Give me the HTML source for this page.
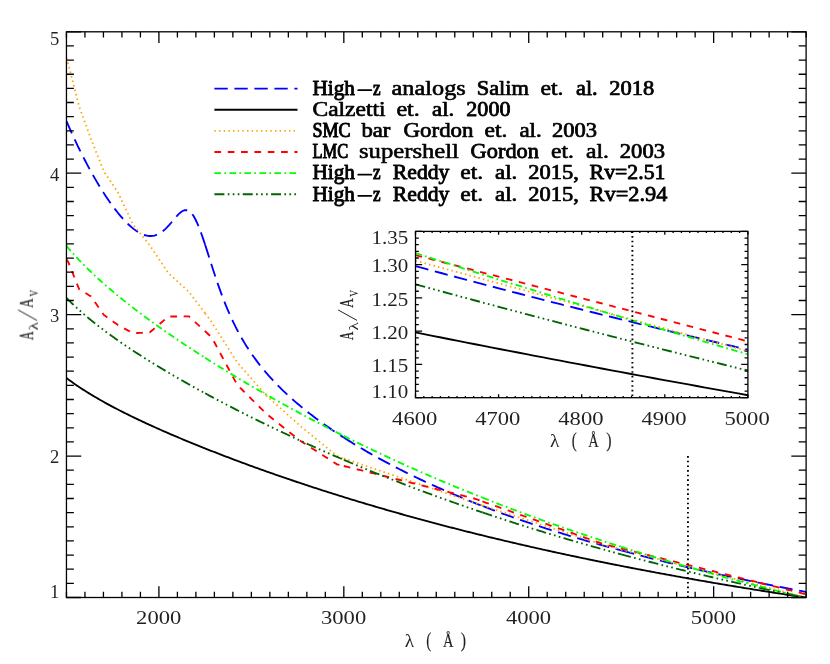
<!DOCTYPE html>
<html><head><meta charset="utf-8"><title>Attenuation curves</title>
<style>
html,body{margin:0;padding:0;background:#fff;}
body{width:830px;height:664px;overflow:hidden;font-family:"Liberation Serif",serif;}
svg{display:block;}
text{font-family:"Liberation Serif",serif;fill:#000;}
.t,.yl,.ys{opacity:0.88;}
.t{font-size:19.7px;}
.b{font-size:20px;fill:#000;stroke:#000;stroke-linejoin:round;}
.s{font-size:12.5px;}
.yl{font-size:19.2px;}
.ys{font-size:12.6px;}
.p{font-size:21px;opacity:0.88;}
</style></head><body>
<svg width="830" height="664" viewBox="0 0 830 664">
<rect x="0" y="0" width="830" height="664" fill="#fff"/>
<defs>
<clipPath id="cm"><rect x="66.45" y="31.8" width="739.65" height="565.7"/></clipPath>
<clipPath id="ci"><rect x="415.5" y="231.4" width="332.4" height="166.29999999999998"/></clipPath>
</defs>
<g clip-path="url(#cm)" fill="none" stroke-width="1.85">
<path d="M66.45,121.10 L68.19,125.11 L68.32,125.41 L70.20,129.64 L72.07,133.79 L73.95,137.86 L75.82,141.86 L77.69,145.78 L79.14,148.76 L79.57,149.63 L81.44,153.41 L83.32,157.12 L85.19,160.76 L87.07,164.32 L88.94,167.82 L90.81,171.24 L90.98,171.54 L92.69,174.60 L94.56,177.89 L96.44,181.11 L98.31,184.25 L100.18,187.33 L102.06,190.34 L103.83,193.11 L103.93,193.28 L105.81,196.14 L107.68,198.93 L109.55,201.65 L111.43,204.29 L113.30,206.86 L115.18,209.34 L117.05,211.74 L117.81,212.70 L118.93,214.06 L120.80,216.29 L122.67,218.43 L124.55,220.48 L126.42,222.42 L128.30,224.27 L130.17,226.00 L132.04,227.63 L133.10,228.49 L133.92,229.13 L135.79,230.51 L137.67,231.75 L139.54,232.86 L141.41,233.81 L143.29,234.61 L145.16,235.24 L147.04,235.70 L148.91,235.96 L149.89,236.02 L150.79,236.03 L152.66,235.89 L154.53,235.54 L156.41,234.96 L158.28,234.15 L160.16,233.11 L162.03,231.84 L163.90,230.34 L165.78,228.63 L167.65,226.73 L168.39,225.93 L169.53,224.66 L171.40,222.48 L173.27,220.24 L175.15,218.01 L177.02,215.86 L178.90,213.91 L180.77,212.25 L182.65,210.99 L184.52,210.23 L186.39,210.08 L188.27,210.60 L188.89,210.93 L190.14,211.84 L192.02,213.83 L193.89,216.56 L195.76,219.99 L197.64,224.06 L199.51,228.67 L201.39,233.74 L203.26,239.15 L205.13,244.82" stroke="#0000ff" stroke-dasharray="13.33 6.67"/>
<path d="M205.13,244.82 L207.01,250.65 L208.88,256.55 L210.76,262.45 L211.74,265.52 L212.63,268.30 L214.50,274.05 L216.38,279.66 L218.25,285.11 L220.13,290.39 L222.00,295.47 L223.88,300.37 L225.75,305.07 L227.62,309.59 L229.50,313.92 L231.37,318.07 L233.25,322.06 L235.12,325.88 L236.99,329.55 L237.35,330.24 L238.87,333.08 L240.74,336.47 L242.62,339.74 L244.49,342.89 L246.36,345.92 L248.24,348.85 L250.11,351.69 L251.99,354.43 L253.86,357.09 L255.74,359.66 L257.61,362.17 L259.48,364.60 L261.36,366.96 L263.23,369.26 L265.11,371.51 L266.27,372.88 L266.98,373.69 L268.85,375.83 L270.73,377.92 L272.60,379.96 L274.48,381.96 L276.35,383.91 L278.22,385.83 L280.10,387.71 L281.97,389.55 L283.85,391.36 L285.72,393.13 L287.60,394.88 L289.47,396.60 L291.34,398.29 L293.22,399.95 L295.09,401.58 L296.97,403.20 L298.84,404.78 L299.18,405.07 L300.71,406.35 L302.59,407.89 L304.46,409.42 L306.34,410.92 L308.21,412.40 L310.08,413.86 L311.96,415.31 L313.83,416.74 L315.71,418.15 L317.58,419.54 L319.46,420.92 L321.33,422.28 L323.20,423.63 L325.08,424.96 L326.95,426.28 L328.83,427.59 L330.70,428.88 L332.57,430.16 L334.45,431.42 L336.32,432.68 L336.97,433.11 L338.20,433.92 L340.07,435.15 L341.94,436.36 L343.82,437.57" stroke="#0000ff" stroke-dasharray="13.33 6.67"/>
<path d="M343.82,437.57 L345.69,438.77 L347.57,439.95 L349.44,441.12 L351.32,442.29 L353.19,443.44 L355.06,444.59 L356.94,445.72 L358.81,446.84 L360.69,447.96 L362.56,449.07 L364.43,450.16 L366.31,451.25 L368.18,452.33 L370.06,453.40 L371.93,454.47 L373.80,455.52 L375.68,456.57 L377.55,457.61 L379.43,458.64 L381.30,459.66 L383.18,460.68 L385.05,461.68 L386.92,462.68 L388.80,463.68 L390.67,464.66 L392.55,465.64 L394.42,466.62 L396.29,467.58 L398.17,468.54 L400.04,469.50 L401.92,470.44 L403.79,471.38 L405.66,472.32 L407.54,473.24 L409.41,474.16 L411.29,475.08 L413.16,475.99 L415.04,476.89 L416.91,477.79 L418.78,478.68 L420.66,479.57 L422.53,480.45 L424.41,481.32 L426.28,482.19 L428.15,483.05 L430.03,483.91 L431.90,484.76 L433.78,485.61 L435.65,486.45 L437.52,487.29 L439.40,488.12 L441.27,488.95 L443.15,489.77 L445.02,490.59 L446.89,491.40 L448.77,492.21 L450.64,493.02 L452.52,493.81 L454.39,494.61 L456.27,495.40 L458.14,496.18 L460.01,496.96 L461.89,497.74 L463.76,498.51 L465.64,499.28 L467.51,500.04 L469.38,500.80 L471.26,501.55 L473.13,502.30 L473.18,502.32 L475.01,503.05 L476.88,503.79 L478.75,504.52 L480.63,505.26 L482.50,505.99" stroke="#0000ff" stroke-dasharray="13.33 6.67"/>
<path d="M482.50,505.99 L484.38,506.71 L486.25,507.43 L488.13,508.15 L490.00,508.87 L491.87,509.58 L493.75,510.28 L495.62,510.99 L497.50,511.68 L499.37,512.38 L501.24,513.07 L503.12,513.76 L504.99,514.44 L506.87,515.12 L508.74,515.80 L510.61,516.47 L512.49,517.14 L514.36,517.81 L516.24,518.47 L518.11,519.13 L519.99,519.78 L521.86,520.43 L523.73,521.08 L525.61,521.72 L527.48,522.35 L529.36,522.99 L531.23,523.62 L533.10,524.24 L534.98,524.87 L536.85,525.48 L538.73,526.10 L540.60,526.71 L542.47,527.32 L544.35,527.93 L546.22,528.53 L548.10,529.13 L549.97,529.72 L551.85,530.31 L553.72,530.90 L555.59,531.49 L557.47,532.07 L559.34,532.65 L561.22,533.23 L563.09,533.80 L564.96,534.38 L566.84,534.94 L568.71,535.51 L570.59,536.07 L572.46,536.63 L574.33,537.19 L576.21,537.75 L578.08,538.30 L579.96,538.85 L581.83,539.40 L583.71,539.95 L585.58,540.49 L587.45,541.03 L589.33,541.57 L591.20,542.11 L593.08,542.65 L594.95,543.18 L596.82,543.71 L598.70,544.24 L600.57,544.77 L602.45,545.29 L602.60,545.34 L604.32,545.82 L606.19,546.34 L608.07,546.86 L609.94,547.38 L611.82,547.90 L613.69,548.41 L615.57,548.93 L617.44,549.44 L619.31,549.95 L621.19,550.46" stroke="#0000ff" stroke-dasharray="13.33 6.67"/>
<path d="M621.19,550.46 L623.06,550.97 L624.94,551.47 L626.81,551.98 L628.68,552.48 L630.56,552.98 L632.43,553.47 L634.31,553.97 L636.18,554.46 L638.05,554.95 L639.93,555.44 L641.80,555.93 L643.68,556.41 L645.55,556.90 L647.43,557.38 L649.30,557.85 L651.17,558.33 L653.05,558.81 L654.92,559.28 L656.80,559.75 L658.67,560.22 L660.54,560.68 L662.42,561.15 L664.29,561.61 L666.17,562.07 L668.04,562.53 L669.91,562.99 L671.79,563.45 L673.66,563.90 L675.54,564.35 L677.41,564.80 L679.29,565.25 L681.16,565.70 L683.03,566.14 L684.91,566.58 L686.78,567.02 L688.66,567.46 L690.53,567.90 L692.40,568.34 L694.28,568.77 L696.15,569.20 L698.03,569.63 L699.90,570.06 L701.77,570.49 L703.65,570.92 L705.52,571.34 L707.40,571.76 L709.27,572.18 L711.14,572.60 L713.02,573.02 L714.89,573.43 L716.77,573.85 L718.64,574.26 L720.52,574.67 L722.39,575.08 L724.26,575.49 L726.14,575.90 L728.01,576.30 L729.89,576.70 L731.76,577.11 L733.63,577.51 L735.51,577.90 L737.38,578.30 L739.26,578.70 L741.13,579.09 L743.00,579.48 L744.88,579.88 L746.75,580.27 L748.63,580.65 L750.50,581.04 L752.38,581.43 L754.25,581.81 L756.12,582.19 L758.00,582.57 L759.87,582.95" stroke="#0000ff" stroke-dasharray="13.33 6.67"/>
<path d="M759.87,582.95 L761.80,583.34 L763.72,583.73 L765.65,584.12 L767.58,584.50 L769.50,584.88 L771.43,585.27 L773.36,585.65 L775.28,586.02 L777.21,586.40 L779.13,586.78 L781.06,587.15 L782.99,587.53 L784.91,587.90 L786.84,588.27 L788.76,588.64 L790.69,589.01 L792.62,589.37 L794.54,589.74 L796.47,590.10 L798.40,590.46 L800.32,590.82 L802.25,591.18 L804.17,591.54 L806.10,591.90" stroke="#0000ff" stroke-dasharray="13.33 6.67"/>
<path d="M66.45,378.07 L68.19,379.36 L68.30,379.44 L70.16,380.79 L72.01,382.12 L73.87,383.42 L75.72,384.70 L77.57,385.96 L79.14,387.01 L79.43,387.20 L81.28,388.42 L83.13,389.62 L84.99,390.80 L86.84,391.97 L88.70,393.12 L90.55,394.25 L90.98,394.51 L92.40,395.37 L94.26,396.47 L96.11,397.57 L97.96,398.64 L99.82,399.71 L101.67,400.76 L103.53,401.80 L103.83,401.97 L105.38,402.83 L107.23,403.85 L109.09,404.86 L110.94,405.85 L112.79,406.84 L114.65,407.82 L116.50,408.79 L117.81,409.47 L118.36,409.75 L120.21,410.70 L122.06,411.65 L123.92,412.58 L125.77,413.51 L127.62,414.43 L129.48,415.35 L131.33,416.26 L133.10,417.12 L133.19,417.16 L135.04,418.05 L136.89,418.94 L138.75,419.82 L140.60,420.70 L142.45,421.57 L144.31,422.43 L146.16,423.29 L148.02,424.15 L149.87,425.00 L149.89,425.00 L151.72,425.84 L153.58,426.68 L155.43,427.51 L157.28,428.34 L159.14,429.17 L160.99,429.99 L162.85,430.81 L164.70,431.62 L166.55,432.43 L168.39,433.23 L168.41,433.23 L170.26,434.03 L172.11,434.83 L173.97,435.62 L175.82,436.41 L177.68,437.20 L179.53,437.98 L181.38,438.76 L183.24,439.53 L185.09,440.31 L186.94,441.07 L188.80,441.84 L188.89,441.88 L190.65,442.60 L192.51,443.36 L194.36,444.12 L196.21,444.87 L198.07,445.62 L199.92,446.36 L201.77,447.11 L203.63,447.85 L205.48,448.59 L207.34,449.32 L209.19,450.05 L211.04,450.78 L211.74,451.06 L212.90,451.51 L214.75,452.23 L216.60,452.96 L218.46,453.68 L220.31,454.39 L222.17,455.11 L224.02,455.82 L225.87,456.52 L227.73,457.23 L229.58,457.93 L231.43,458.64 L233.29,459.33 L235.14,460.03 L237.00,460.72 L237.35,460.86 L238.85,461.42 L240.70,462.10 L242.56,462.79 L244.41,463.48 L246.26,464.16 L248.12,464.84 L249.97,465.52 L251.83,466.19 L253.68,466.86 L255.53,467.53 L257.39,468.20 L259.24,468.87 L261.09,469.53 L262.95,470.20 L264.80,470.86 L266.27,471.38 L266.66,471.51 L268.51,472.17 L270.36,472.82 L272.22,473.47 L274.07,474.12 L275.92,474.77 L277.78,475.41 L279.63,476.06 L281.49,476.70 L283.34,477.34 L285.19,477.97 L287.05,478.61 L288.90,479.24 L290.75,479.87 L292.61,480.50 L294.46,481.12 L296.32,481.75 L298.17,482.37 L299.18,482.71 L300.02,482.99 L301.88,483.61 L303.73,484.23 L305.58,484.84 L307.44,485.45 L309.29,486.06 L311.15,486.67 L313.00,487.28 L314.85,487.88 L316.71,488.49 L318.56,489.09 L320.42,489.69 L322.27,490.28 L324.12,490.88 L325.98,491.47 L327.83,492.06 L329.68,492.65 L331.54,493.24 L333.39,493.83 L335.25,494.41 L336.97,494.95 L337.10,494.99 L338.95,495.57 L340.81,496.15 L342.66,496.73 L344.51,497.30 L346.37,497.88 L348.22,498.45 L350.08,499.02 L351.93,499.59 L353.78,500.15 L355.64,500.72 L357.49,501.28 L359.34,501.84 L361.20,502.40 L363.05,502.96 L364.91,503.51 L366.76,504.06 L368.61,504.62 L370.47,505.17 L372.32,505.72 L374.17,506.26 L376.03,506.81 L377.88,507.35 L379.74,507.89 L381.59,508.43 L383.44,508.97 L385.30,509.51 L387.15,510.04 L389.00,510.57 L390.86,511.11 L392.71,511.64 L394.57,512.16 L396.42,512.69 L398.27,513.22 L400.13,513.74 L401.98,514.26 L403.83,514.78 L405.69,515.30 L407.54,515.81 L409.40,516.33 L411.25,516.84 L413.10,517.36 L414.96,517.87 L416.81,518.37 L418.66,518.88 L420.52,519.39 L422.37,519.89 L424.23,520.39 L426.08,520.89 L427.93,521.39 L429.79,521.89 L431.64,522.39 L433.49,522.88 L435.35,523.38 L437.20,523.87 L439.06,524.36 L440.91,524.85 L442.76,525.33 L444.62,525.82 L446.47,526.30 L448.32,526.78 L450.18,527.27 L452.03,527.75 L453.89,528.22 L455.74,528.70 L457.59,529.18 L459.45,529.65 L461.30,530.12 L463.15,530.59 L465.01,531.06 L466.86,531.53 L468.72,532.00 L470.57,532.46 L472.42,532.92 L473.18,533.11 L474.28,533.39 L476.13,533.85 L477.98,534.31 L479.84,534.76 L481.69,535.22 L483.55,535.68 L485.40,536.13 L487.25,536.58 L489.11,537.03 L490.96,537.48 L492.81,537.93 L494.67,538.38 L496.52,538.82 L498.38,539.27 L500.23,539.71 L502.08,540.15 L503.94,540.59 L505.79,541.03 L507.64,541.47 L509.50,541.90 L511.35,542.34 L513.21,542.77 L515.06,543.20 L516.91,543.63 L518.77,544.06 L520.62,544.49 L522.47,544.92 L524.33,545.34 L526.18,545.77 L528.04,546.19 L529.89,546.61 L531.74,547.03 L533.60,547.45 L535.45,547.87 L537.30,548.29 L539.16,548.70 L541.01,549.12 L542.87,549.53 L544.72,549.94 L546.57,550.35 L548.43,550.76 L550.28,551.17 L552.13,551.58 L553.99,551.98 L555.84,552.39 L557.70,552.79 L559.55,553.19 L561.40,553.59 L563.26,553.99 L565.11,554.39 L566.97,554.79 L568.82,555.18 L570.67,555.58 L572.53,555.97 L574.38,556.37 L576.23,556.76 L578.09,557.15 L579.94,557.54 L581.80,557.92 L583.65,558.31 L585.50,558.70 L587.36,559.08 L589.21,559.47 L591.06,559.85 L592.92,560.23 L594.77,560.61 L596.63,560.99 L598.48,561.37 L600.33,561.74 L602.19,562.12 L602.60,562.20 L604.04,562.49 L605.89,562.87 L607.75,563.24 L609.60,563.61 L611.46,563.98 L613.31,564.35 L615.16,564.72 L617.02,565.08 L618.87,565.45 L620.72,565.81 L622.58,566.18 L624.43,566.54 L626.29,566.90 L628.14,567.26 L629.99,567.62 L631.85,567.98 L633.70,568.34 L635.55,568.70 L637.41,569.05 L639.26,569.41 L641.12,569.76 L642.97,570.11 L644.82,570.46 L646.68,570.81 L648.53,571.16 L650.38,571.51 L652.24,571.86 L654.09,572.20 L655.95,572.55 L657.80,572.89 L659.65,573.24 L661.51,573.58 L663.36,573.92 L665.21,574.26 L667.07,574.60 L668.92,574.94 L670.78,575.28 L672.63,575.62 L674.48,575.95 L676.34,576.29 L678.19,576.62 L680.04,576.95 L681.90,577.29 L683.75,577.62 L685.61,577.95 L687.46,578.28 L689.31,578.60 L691.17,578.93 L693.02,579.26 L694.87,579.58 L696.73,579.91 L698.58,580.23 L700.44,580.55 L702.29,580.88 L704.14,581.20 L706.00,581.52 L707.85,581.84 L709.70,582.16 L711.56,582.47 L713.41,582.79 L715.27,583.11 L717.12,583.42 L718.97,583.73 L720.83,584.05 L722.68,584.36 L724.53,584.67 L726.39,584.98 L728.24,585.29 L730.10,585.60 L731.95,585.91 L733.80,586.22 L735.66,586.52 L737.51,586.83 L739.36,587.13 L741.22,587.44 L743.07,587.74 L744.93,588.04 L746.78,588.34 L748.63,588.64 L750.49,588.94 L752.34,589.24 L754.19,589.54 L756.05,589.84 L757.90,590.13 L759.76,590.43 L761.61,590.73 L763.46,591.02 L765.32,591.31 L767.17,591.61 L769.02,591.90 L770.88,592.19 L772.73,592.48 L774.59,592.77 L776.44,593.06 L778.29,593.35 L780.15,593.63 L782.00,593.92 L783.85,594.20 L785.71,594.49 L787.56,594.77 L789.42,595.06 L791.27,595.34 L793.12,595.62 L794.98,595.90 L796.83,596.18 L798.68,596.46 L800.54,596.74 L802.39,597.02 L804.25,597.30 L806.10,597.57" stroke="#000"/>
<path d="M66.45,58.03 L68.19,63.48 L68.32,63.99 L70.20,71.35 L72.07,78.71 L73.95,86.07 L75.82,93.43 L77.69,100.80 L79.14,106.47 L79.57,107.65 L81.44,112.77 L83.32,117.90 L85.19,123.03 L87.07,128.15 L88.94,133.28 L90.81,138.41 L90.98,138.86 L92.69,143.18 L94.56,147.93 L96.44,152.67 L98.31,157.42 L100.18,162.17 L102.06,166.91 L103.83,171.39 L103.93,171.54 L105.81,174.33 L107.68,177.11 L109.55,179.90 L111.43,182.69 L113.30,185.47 L115.18,188.26 L117.05,191.04 L117.81,192.18 L118.93,194.53 L120.80,198.50 L122.67,202.47 L124.55,206.44 L126.42,210.41 L128.30,214.38 L130.17,218.35 L132.04,222.32 L133.10,224.56 L133.92,225.58 L135.79,227.91 L137.67,230.25 L139.54,232.59 L141.41,234.93 L143.29,237.26 L145.16,239.60 L147.04,241.94 L148.91,244.28 L149.89,245.49 L150.79,246.84 L152.66,249.65 L154.53,252.46 L156.41,255.26 L158.28,258.07 L160.16,260.88 L162.03,263.69 L163.90,266.49 L165.78,269.30 L167.65,272.11 L168.39,273.21 L169.53,274.25 L171.40,275.95 L173.27,277.66 L175.15,279.37 L177.02,281.07 L178.90,282.78 L180.77,284.49 L182.65,286.19 L184.52,287.90 L186.39,289.61 L188.27,291.31 L188.89,291.88 L190.14,293.54 L192.02,296.02 L193.89,298.50 L195.76,300.98 L197.64,303.47 L199.51,305.95 L201.39,308.43 L203.26,310.91 L205.13,313.40" stroke="#ffa500" stroke-dasharray="1.45 3.21"/>
<path d="M205.13,313.40 L207.01,315.88 L208.88,318.36 L210.76,320.85 L211.74,322.15 L212.63,323.55 L214.50,326.51 L216.38,329.47 L218.25,332.43 L220.13,335.39 L222.00,338.35 L223.88,341.31 L225.75,344.27 L227.62,347.23 L229.50,350.19 L231.37,353.15 L233.25,356.11 L235.12,359.07 L236.99,362.03 L237.35,362.59 L238.87,364.32 L240.74,366.45 L242.62,368.59 L244.49,370.72 L246.36,372.86 L248.24,375.00 L250.11,377.13 L251.99,379.27 L253.86,381.40 L255.74,383.54 L257.61,385.67 L259.48,387.81 L261.36,389.94 L263.23,392.08 L265.11,394.21 L266.27,395.55 L266.98,396.18 L268.85,397.85 L270.73,399.53 L272.60,401.20 L274.48,402.88 L276.35,404.55 L278.22,406.23 L280.10,407.90 L281.97,409.58 L283.85,411.25 L285.72,412.93 L287.60,414.60 L289.47,416.28 L291.34,417.95 L293.22,419.63 L295.09,421.30 L296.97,422.98 L298.84,424.65 L299.18,424.96 L300.71,426.22 L302.59,427.76 L304.46,429.31 L306.34,430.85 L308.21,432.39 L310.08,433.94 L311.96,435.48 L313.83,437.02 L315.71,438.57 L317.58,440.11 L319.46,441.65 L321.33,443.20 L323.20,444.74 L325.08,446.28 L326.95,447.83 L328.83,449.37 L330.70,450.91 L332.57,452.46 L334.45,454.00 L336.32,455.54 L336.97,456.07 L338.20,456.49 L340.07,457.13 L341.94,457.77 L343.82,458.41" stroke="#ffa500" stroke-dasharray="1.45 3.21"/>
<path d="M343.82,458.41 L345.69,459.05 L347.57,459.68 L349.44,460.32 L351.32,460.96 L353.19,461.60 L355.06,462.24 L356.94,462.87 L358.81,463.51 L360.69,464.15 L362.56,464.79 L364.43,465.43 L366.31,466.07 L368.18,466.70 L370.06,467.34 L371.93,467.98 L373.80,468.62 L375.68,469.26 L377.55,469.90 L379.43,470.53 L381.30,471.17 L383.18,471.81 L385.05,472.45 L386.92,473.09 L388.80,473.72 L390.67,474.36 L392.55,475.00 L394.42,475.64 L396.29,476.28 L398.17,476.92 L400.04,477.55 L401.92,478.19 L403.79,478.83 L405.66,479.47 L407.54,480.11 L409.41,480.75 L411.29,481.38 L413.16,482.02 L415.04,482.66 L416.91,483.30 L418.78,483.94 L420.66,484.57 L422.53,485.21 L424.41,485.85 L426.28,486.49 L428.15,487.13 L430.03,487.77 L431.90,488.40 L433.78,489.04 L435.65,489.68 L437.52,490.32 L439.40,490.96 L441.27,491.60 L443.15,492.23 L445.02,492.87 L446.89,493.51 L448.77,494.15 L450.64,494.79 L452.52,495.42 L454.39,496.06 L456.27,496.70 L458.14,497.34 L460.01,497.98 L461.89,498.62 L463.76,499.25 L465.64,499.89 L467.51,500.53 L469.38,501.17 L471.26,501.81 L473.13,502.45 L473.18,502.46 L475.01,503.06 L476.88,503.67 L478.75,504.28 L480.63,504.89 L482.50,505.50" stroke="#ffa500" stroke-dasharray="1.45 3.21"/>
<path d="M482.50,505.50 L484.38,506.11 L486.25,506.72 L488.13,507.33 L490.00,507.94 L491.87,508.55 L493.75,509.16 L495.62,509.77 L497.50,510.38 L499.37,510.99 L501.24,511.60 L503.12,512.21 L504.99,512.82 L506.87,513.43 L508.74,514.04 L510.61,514.65 L512.49,515.26 L514.36,515.87 L516.24,516.48 L518.11,517.09 L519.99,517.70 L521.86,518.31 L523.73,518.92 L525.61,519.53 L527.48,520.15 L529.36,520.76 L531.23,521.37 L533.10,521.98 L534.98,522.59 L536.85,523.20 L538.73,523.81 L540.60,524.42 L542.47,525.03 L544.35,525.64 L546.22,526.25 L548.10,526.86 L549.97,527.47 L551.85,528.08 L553.72,528.69 L555.59,529.30 L557.47,529.91 L559.34,530.52 L561.22,531.13 L563.09,531.74 L564.96,532.35 L566.84,532.96 L568.71,533.57 L570.59,534.18 L572.46,534.79 L574.33,535.40 L576.21,536.01 L578.08,536.62 L579.96,537.23 L581.83,537.84 L583.71,538.45 L585.58,539.06 L587.45,539.68 L589.33,540.29 L591.20,540.90 L593.08,541.51 L594.95,542.12 L596.82,542.73 L598.70,543.34 L600.57,543.95 L602.45,544.56 L602.60,544.61 L604.32,545.05 L606.19,545.54 L608.07,546.03 L609.94,546.51 L611.82,547.00 L613.69,547.49 L615.57,547.98 L617.44,548.46 L619.31,548.95 L621.19,549.44" stroke="#ffa500" stroke-dasharray="1.45 3.21"/>
<path d="M621.19,549.44 L623.06,549.92 L624.94,550.41 L626.81,550.90 L628.68,551.38 L630.56,551.87 L632.43,552.36 L634.31,552.84 L636.18,553.33 L638.05,553.82 L639.93,554.30 L641.80,554.79 L643.68,555.28 L645.55,555.77 L647.43,556.25 L649.30,556.74 L651.17,557.23 L653.05,557.71 L654.92,558.20 L656.80,558.69 L658.67,559.17 L660.54,559.66 L662.42,560.15 L664.29,560.63 L666.17,561.12 L668.04,561.61 L669.91,562.09 L671.79,562.58 L673.66,563.07 L675.54,563.56 L677.41,564.04 L679.29,564.53 L681.16,565.02 L683.03,565.50 L684.91,565.99 L686.78,566.48 L688.66,566.96 L690.53,567.45 L692.40,567.94 L694.28,568.42 L696.15,568.91 L698.03,569.40 L699.90,569.88 L701.77,570.37 L703.65,570.86 L705.52,571.35 L707.40,571.83 L709.27,572.32 L711.14,572.81 L713.02,573.29 L714.89,573.78 L716.77,574.27 L718.64,574.75 L720.52,575.24 L722.39,575.73 L724.26,576.21 L726.14,576.70 L728.01,577.19 L729.89,577.67 L731.76,578.16 L733.63,578.65 L735.51,579.13 L737.38,579.62 L739.26,580.11 L741.13,580.60 L743.00,581.08 L744.88,581.57 L746.75,582.06 L748.63,582.54 L750.50,583.03 L752.38,583.52 L754.25,584.00 L756.12,584.49 L758.00,584.98 L759.87,585.46" stroke="#ffa500" stroke-dasharray="1.45 3.21"/>
<path d="M759.87,585.46 L761.80,585.96 L763.72,586.47 L765.65,586.97 L767.58,587.47 L769.50,587.97 L771.43,588.47 L773.36,588.97 L775.28,589.47 L777.21,589.97 L779.13,590.47 L781.06,590.97 L782.99,591.47 L784.91,591.97 L786.84,592.47 L788.76,592.97 L790.69,593.47 L792.62,593.97 L794.54,594.47 L796.47,594.97 L798.40,595.47 L800.32,595.97 L802.25,596.47 L804.17,596.97 L806.10,597.47" stroke="#ffa500" stroke-dasharray="1.45 3.21"/>
<path d="M66.45,259.16 L68.19,261.87 L68.32,262.19 L70.20,266.87 L72.07,271.55 L73.95,276.23 L75.82,280.91 L77.69,285.59 L79.14,289.20 L79.57,289.46 L81.44,290.60 L83.32,291.75 L85.19,292.89 L87.07,294.04 L88.94,295.18 L90.81,296.33 L90.98,296.43 L92.69,298.89 L94.56,301.59 L96.44,304.29 L98.31,306.99 L100.18,309.69 L102.06,312.39 L103.83,314.94 L103.93,315.01 L105.81,316.35 L107.68,317.69 L109.55,319.02 L111.43,320.36 L113.30,321.70 L115.18,323.03 L117.05,324.37 L117.81,324.91 L118.93,325.52 L120.80,326.55 L122.67,327.58 L124.55,328.61 L126.42,329.64 L128.30,330.66 L130.17,331.69 L132.04,332.72 L133.10,333.30 L133.92,333.25 L135.79,333.14 L137.67,333.03 L139.54,332.91 L141.41,332.80 L143.29,332.69 L145.16,332.57 L147.04,332.46 L148.91,332.35 L149.89,332.29 L150.79,331.52 L152.66,329.93 L154.53,328.33 L156.41,326.73 L158.28,325.14 L160.16,323.54 L162.03,321.95 L163.90,320.35 L165.78,318.75 L167.65,317.16 L168.39,316.53 L169.53,316.52 L171.40,316.51 L173.27,316.49 L175.15,316.48 L177.02,316.47 L178.90,316.45 L180.77,316.44 L182.65,316.43 L184.52,316.41 L186.39,316.40 L188.27,316.39 L188.89,316.38 L190.14,317.53 L192.02,319.25 L193.89,320.97 L195.76,322.69 L197.64,324.41 L199.51,326.13 L201.39,327.85 L203.26,329.57 L205.13,331.29" stroke="#ff0000" stroke-dasharray="6.67 6.67"/>
<path d="M205.13,331.29 L207.01,333.01 L208.88,334.73 L210.76,336.45 L211.74,337.35 L212.63,339.01 L214.50,342.51 L216.38,346.00 L218.25,349.49 L220.13,352.98 L222.00,356.47 L223.88,359.96 L225.75,363.45 L227.62,366.94 L229.50,370.44 L231.37,373.93 L233.25,377.42 L235.12,380.91 L236.99,384.40 L237.35,385.07 L238.87,386.57 L240.74,388.43 L242.62,390.28 L244.49,392.14 L246.36,393.99 L248.24,395.85 L250.11,397.70 L251.99,399.56 L253.86,401.41 L255.74,403.27 L257.61,405.12 L259.48,406.98 L261.36,408.84 L263.23,410.69 L265.11,412.55 L266.27,413.70 L266.98,414.27 L268.85,415.77 L270.73,417.27 L272.60,418.76 L274.48,420.26 L276.35,421.76 L278.22,423.26 L280.10,424.76 L281.97,426.26 L283.85,427.76 L285.72,429.26 L287.60,430.75 L289.47,432.25 L291.34,433.75 L293.22,435.25 L295.09,436.75 L296.97,438.25 L298.84,439.75 L299.18,440.02 L300.71,441.01 L302.59,442.21 L304.46,443.42 L306.34,444.62 L308.21,445.83 L310.08,447.03 L311.96,448.24 L313.83,449.44 L315.71,450.65 L317.58,451.85 L319.46,453.06 L321.33,454.26 L323.20,455.46 L325.08,456.67 L326.95,457.87 L328.83,459.08 L330.70,460.28 L332.57,461.49 L334.45,462.69 L336.32,463.90 L336.97,464.32 L338.20,464.62 L340.07,465.09 L341.94,465.55 L343.82,466.02" stroke="#ff0000" stroke-dasharray="6.67 6.67"/>
<path d="M343.82,466.02 L345.69,466.48 L347.57,466.95 L349.44,467.41 L351.32,467.88 L353.19,468.35 L355.06,468.81 L356.94,469.28 L358.81,469.74 L360.69,470.21 L362.56,470.67 L364.43,471.14 L366.31,471.60 L368.18,472.07 L370.06,472.54 L371.93,473.00 L373.80,473.47 L375.68,473.93 L377.55,474.40 L379.43,474.86 L381.30,475.33 L383.18,475.79 L385.05,476.26 L386.92,476.73 L388.80,477.19 L390.67,477.66 L392.55,478.12 L394.42,478.59 L396.29,479.05 L398.17,479.52 L400.04,479.98 L401.92,480.45 L403.79,480.92 L405.66,481.38 L407.54,481.85 L409.41,482.31 L411.29,482.78 L413.16,483.24 L415.04,483.71 L416.91,484.17 L418.78,484.64 L420.66,485.11 L422.53,485.57 L424.41,486.04 L426.28,486.50 L428.15,486.97 L430.03,487.43 L431.90,487.90 L433.78,488.36 L435.65,488.83 L437.52,489.30 L439.40,489.76 L441.27,490.23 L443.15,490.69 L445.02,491.16 L446.89,491.62 L448.77,492.09 L450.64,492.56 L452.52,493.02 L454.39,493.49 L456.27,493.95 L458.14,494.42 L460.01,494.88 L461.89,495.35 L463.76,495.81 L465.64,496.28 L467.51,496.75 L469.38,497.21 L471.26,497.68 L473.13,498.14 L473.18,498.15 L475.01,498.80 L476.88,499.46 L478.75,500.12 L480.63,500.78 L482.50,501.45" stroke="#ff0000" stroke-dasharray="6.67 6.67"/>
<path d="M482.50,501.45 L484.38,502.11 L486.25,502.77 L488.13,503.43 L490.00,504.09 L491.87,504.75 L493.75,505.42 L495.62,506.08 L497.50,506.74 L499.37,507.40 L501.24,508.06 L503.12,508.72 L504.99,509.39 L506.87,510.05 L508.74,510.71 L510.61,511.37 L512.49,512.03 L514.36,512.69 L516.24,513.36 L518.11,514.02 L519.99,514.68 L521.86,515.34 L523.73,516.00 L525.61,516.67 L527.48,517.33 L529.36,517.99 L531.23,518.65 L533.10,519.31 L534.98,519.97 L536.85,520.64 L538.73,521.30 L540.60,521.96 L542.47,522.62 L544.35,523.28 L546.22,523.94 L548.10,524.61 L549.97,525.27 L551.85,525.93 L553.72,526.59 L555.59,527.25 L557.47,527.91 L559.34,528.58 L561.22,529.24 L563.09,529.90 L564.96,530.56 L566.84,531.22 L568.71,531.89 L570.59,532.55 L572.46,533.21 L574.33,533.87 L576.21,534.53 L578.08,535.19 L579.96,535.86 L581.83,536.52 L583.71,537.18 L585.58,537.84 L587.45,538.50 L589.33,539.16 L591.20,539.83 L593.08,540.49 L594.95,541.15 L596.82,541.81 L598.70,542.47 L600.57,543.13 L602.45,543.80 L602.60,543.85 L604.32,544.28 L606.19,544.74 L608.07,545.21 L609.94,545.67 L611.82,546.14 L613.69,546.60 L615.57,547.06 L617.44,547.53 L619.31,547.99 L621.19,548.46" stroke="#ff0000" stroke-dasharray="6.67 6.67"/>
<path d="M621.19,548.46 L623.06,548.92 L624.94,549.39 L626.81,549.85 L628.68,550.32 L630.56,550.78 L632.43,551.25 L634.31,551.71 L636.18,552.17 L638.05,552.64 L639.93,553.10 L641.80,553.57 L643.68,554.03 L645.55,554.50 L647.43,554.96 L649.30,555.43 L651.17,555.89 L653.05,556.36 L654.92,556.82 L656.80,557.28 L658.67,557.75 L660.54,558.21 L662.42,558.68 L664.29,559.14 L666.17,559.61 L668.04,560.07 L669.91,560.54 L671.79,561.00 L673.66,561.46 L675.54,561.93 L677.41,562.39 L679.29,562.86 L681.16,563.32 L683.03,563.79 L684.91,564.25 L686.78,564.72 L688.66,565.18 L690.53,565.65 L692.40,566.11 L694.28,566.57 L696.15,567.04 L698.03,567.50 L699.90,567.97 L701.77,568.43 L703.65,568.90 L705.52,569.36 L707.40,569.83 L709.27,570.29 L711.14,570.76 L713.02,571.22 L714.89,571.68 L716.77,572.15 L718.64,572.61 L720.52,573.08 L722.39,573.54 L724.26,574.01 L726.14,574.47 L728.01,574.94 L729.89,575.40 L731.76,575.87 L733.63,576.33 L735.51,576.79 L737.38,577.26 L739.26,577.72 L741.13,578.19 L743.00,578.65 L744.88,579.12 L746.75,579.58 L748.63,580.05 L750.50,580.51 L752.38,580.98 L754.25,581.44 L756.12,581.90 L758.00,582.37 L759.87,582.83" stroke="#ff0000" stroke-dasharray="6.67 6.67"/>
<path d="M759.87,582.83 L761.80,583.31 L763.72,583.79 L765.65,584.27 L767.58,584.74 L769.50,585.22 L771.43,585.70 L773.36,586.18 L775.28,586.65 L777.21,587.13 L779.13,587.61 L781.06,588.09 L782.99,588.56 L784.91,589.04 L786.84,589.52 L788.76,590.00 L790.69,590.47 L792.62,590.95 L794.54,591.43 L796.47,591.91 L798.40,592.38 L800.32,592.86 L802.25,593.34 L804.17,593.82 L806.10,594.29" stroke="#ff0000" stroke-dasharray="6.67 6.67"/>
<path d="M66.45,245.96 L68.19,248.01 L68.32,248.16 L70.20,250.31 L72.07,252.42 L73.95,254.50 L75.82,256.54 L77.69,258.55 L79.14,260.08 L79.57,260.53 L81.44,262.47 L83.32,264.39 L85.19,266.28 L87.07,268.14 L88.94,269.97 L90.81,271.78 L90.98,271.94 L92.69,273.57 L94.56,275.33 L96.44,277.07 L98.31,278.79 L100.18,280.49 L102.06,282.18 L103.83,283.75 L103.93,283.84 L105.81,285.48 L107.68,287.11 L109.55,288.73 L111.43,290.32 L113.30,291.90 L115.18,293.47 L117.05,295.02 L117.81,295.65 L118.93,296.56 L120.80,298.08 L122.67,299.60 L124.55,301.10 L126.42,302.59 L128.30,304.06 L130.17,305.53 L132.04,306.99 L133.10,307.80 L133.92,308.43 L135.79,309.87 L137.67,311.29 L139.54,312.71 L141.41,314.11 L143.29,315.51 L145.16,316.90 L147.04,318.28 L148.91,319.65 L149.89,320.36 L150.79,321.02 L152.66,322.38 L154.53,323.72 L156.41,325.07 L158.28,326.40 L160.16,327.73 L162.03,329.05 L163.90,330.36 L165.78,331.67 L167.65,332.97 L168.39,333.48 L169.53,334.27 L171.40,335.56 L173.27,336.84 L175.15,338.12 L177.02,339.39 L178.90,340.65 L180.77,341.91 L182.65,343.17 L184.52,344.42 L186.39,345.66 L188.27,346.90 L188.89,347.31 L190.14,348.14 L192.02,349.36 L193.89,350.59 L195.76,351.81 L197.64,353.02 L199.51,354.23 L201.39,355.44 L203.26,356.64 L205.13,357.83" stroke="#00ff00" stroke-dasharray="6.67 3.33 1.67 3.33"/>
<path d="M205.13,357.83 L207.01,359.02 L208.88,360.21 L210.76,361.39 L211.74,362.01 L212.63,362.57 L214.50,363.74 L216.38,364.91 L218.25,366.08 L220.13,367.24 L222.00,368.40 L223.88,369.55 L225.75,370.70 L227.62,371.84 L229.50,372.98 L231.37,374.12 L233.25,375.25 L235.12,376.38 L236.99,377.51 L237.35,377.72 L238.87,378.63 L240.74,379.75 L242.62,380.86 L244.49,381.97 L246.36,383.08 L248.24,384.18 L250.11,385.28 L251.99,386.38 L253.86,387.47 L255.74,388.56 L257.61,389.64 L259.48,390.72 L261.36,391.80 L263.23,392.87 L265.11,393.95 L266.27,394.61 L266.98,395.01 L268.85,396.08 L270.73,397.14 L272.60,398.19 L274.48,399.25 L276.35,400.30 L278.22,401.34 L280.10,402.39 L281.97,403.43 L283.85,404.46 L285.72,405.50 L287.60,406.53 L289.47,407.55 L291.34,408.58 L293.22,409.60 L295.09,410.61 L296.97,411.63 L298.84,412.64 L299.18,412.82 L300.71,413.65 L302.59,414.65 L304.46,415.65 L306.34,416.65 L308.21,417.64 L310.08,418.63 L311.96,419.62 L313.83,420.61 L315.71,421.59 L317.58,422.57 L319.46,423.54 L321.33,424.52 L323.20,425.49 L325.08,426.45 L326.95,427.42 L328.83,428.38 L330.70,429.34 L332.57,430.29 L334.45,431.24 L336.32,432.19 L336.97,432.52 L338.20,433.13 L340.07,434.08 L341.94,435.02 L343.82,435.95" stroke="#00ff00" stroke-dasharray="6.67 3.33 1.67 3.33"/>
<path d="M343.82,435.95 L345.69,436.89 L347.57,437.82 L349.44,438.75 L351.32,439.67 L353.19,440.59 L355.06,441.51 L356.94,442.43 L358.81,443.34 L360.69,444.25 L362.56,445.16 L364.43,446.06 L366.31,446.96 L368.18,447.86 L370.06,448.76 L371.93,449.65 L373.80,450.54 L375.68,451.43 L377.55,452.31 L379.43,453.20 L381.30,454.08 L383.18,454.95 L385.05,455.83 L386.92,456.70 L388.80,457.57 L390.67,458.43 L392.55,459.29 L394.42,460.15 L396.29,461.01 L398.17,461.87 L400.04,462.72 L401.92,463.57 L403.79,464.41 L405.66,465.26 L407.54,466.10 L409.41,466.94 L411.29,467.77 L413.16,468.61 L415.04,469.44 L416.91,470.27 L418.78,471.09 L420.66,471.92 L422.53,472.74 L424.41,473.55 L426.28,474.37 L428.15,475.18 L430.03,475.99 L431.90,476.80 L433.78,477.61 L435.65,478.41 L437.52,479.21 L439.40,480.01 L441.27,480.80 L443.15,481.60 L445.02,482.39 L446.89,483.17 L448.77,483.96 L450.64,484.74 L452.52,485.52 L454.39,486.30 L456.27,487.08 L458.14,487.85 L460.01,488.62 L461.89,489.39 L463.76,490.16 L465.64,490.92 L467.51,491.68 L469.38,492.44 L471.26,493.20 L473.13,493.95 L473.18,493.97 L475.01,494.70 L476.88,495.45 L478.75,496.20 L480.63,496.95 L482.50,497.69" stroke="#00ff00" stroke-dasharray="6.67 3.33 1.67 3.33"/>
<path d="M482.50,497.69 L484.38,498.43 L486.25,499.17 L488.13,499.90 L490.00,500.64 L491.87,501.37 L493.75,502.10 L495.62,502.82 L497.50,503.55 L499.37,504.27 L501.24,504.99 L503.12,505.71 L504.99,506.43 L506.87,507.14 L508.74,507.85 L510.61,508.56 L512.49,509.27 L514.36,509.97 L516.24,510.67 L518.11,511.38 L519.99,512.07 L521.86,512.77 L523.73,513.46 L525.61,514.16 L527.48,514.85 L529.36,515.53 L531.23,516.22 L533.10,516.90 L534.98,517.59 L536.85,518.27 L538.73,518.94 L540.60,519.62 L542.47,520.29 L544.35,520.96 L546.22,521.63 L548.10,522.30 L549.97,522.97 L551.85,523.63 L553.72,524.29 L555.59,524.95 L557.47,525.61 L559.34,526.26 L561.22,526.92 L563.09,527.57 L564.96,528.22 L566.84,528.87 L568.71,529.51 L570.59,530.16 L572.46,530.80 L574.33,531.44 L576.21,532.07 L578.08,532.71 L579.96,533.35 L581.83,533.98 L583.71,534.61 L585.58,535.24 L587.45,535.86 L589.33,536.49 L591.20,537.11 L593.08,537.73 L594.95,538.35 L596.82,538.97 L598.70,539.59 L600.57,540.20 L602.45,540.81 L602.60,540.86 L604.32,541.42 L606.19,542.03 L608.07,542.64 L609.94,543.24 L611.82,543.84 L613.69,544.45 L615.57,545.05 L617.44,545.64 L619.31,546.24 L621.19,546.83" stroke="#00ff00" stroke-dasharray="6.67 3.33 1.67 3.33"/>
<path d="M621.19,546.83 L623.06,547.43 L624.94,548.02 L626.81,548.61 L628.68,549.19 L630.56,549.78 L632.43,550.36 L634.31,550.95 L636.18,551.53 L638.05,552.11 L639.93,552.68 L641.80,553.26 L643.68,553.83 L645.55,554.40 L647.43,554.98 L649.30,555.54 L651.17,556.11 L653.05,556.68 L654.92,557.24 L656.80,557.80 L658.67,558.36 L660.54,558.92 L662.42,559.48 L664.29,560.04 L666.17,560.59 L668.04,561.15 L669.91,561.70 L671.79,562.25 L673.66,562.79 L675.54,563.34 L677.41,563.89 L679.29,564.43 L681.16,564.97 L683.03,565.51 L684.91,566.05 L686.78,566.59 L688.66,567.12 L690.53,567.66 L692.40,568.19 L694.28,568.72 L696.15,569.25 L698.03,569.78 L699.90,570.31 L701.77,570.83 L703.65,571.36 L705.52,571.88 L707.40,572.40 L709.27,572.92 L711.14,573.44 L713.02,573.95 L714.89,574.47 L716.77,574.98 L718.64,575.50 L720.52,576.01 L722.39,576.52 L724.26,577.02 L726.14,577.53 L728.01,578.04 L729.89,578.54 L731.76,579.04 L733.63,579.54 L735.51,580.04 L737.38,580.54 L739.26,581.04 L741.13,581.53 L743.00,582.03 L744.88,582.52 L746.75,583.01 L748.63,583.50 L750.50,583.99 L752.38,584.48 L754.25,584.97 L756.12,585.45 L758.00,585.93 L759.87,586.42" stroke="#00ff00" stroke-dasharray="6.67 3.33 1.67 3.33"/>
<path d="M759.87,586.42 L761.80,586.91 L763.72,587.40 L765.65,587.90 L767.58,588.39 L769.50,588.87 L771.43,589.36 L773.36,589.85 L775.28,590.33 L777.21,590.82 L779.13,591.30 L781.06,591.78 L782.99,592.26 L784.91,592.74 L786.84,593.21 L788.76,593.69 L790.69,594.16 L792.62,594.63 L794.54,595.11 L796.47,595.58 L798.40,596.05 L800.32,596.51 L802.25,596.98 L804.17,597.44 L806.10,597.91" stroke="#00ff00" stroke-dasharray="6.67 3.33 1.67 3.33"/>
<path d="M66.45,297.98 L68.19,299.72 L68.32,299.85 L70.20,301.68 L72.07,303.48 L73.95,305.25 L75.82,306.99 L77.69,308.70 L79.14,310.00 L79.57,310.39 L81.44,312.04 L83.32,313.68 L85.19,315.28 L87.07,316.87 L88.94,318.43 L90.81,319.97 L90.98,320.11 L92.69,321.50 L94.56,323.00 L96.44,324.48 L98.31,325.95 L100.18,327.40 L102.06,328.83 L103.83,330.17 L103.93,330.25 L105.81,331.65 L107.68,333.04 L109.55,334.41 L111.43,335.77 L113.30,337.12 L115.18,338.45 L117.05,339.78 L117.81,340.31 L118.93,341.09 L120.80,342.39 L122.67,343.68 L124.55,344.95 L126.42,346.22 L128.30,347.48 L130.17,348.73 L132.04,349.97 L133.10,350.67 L133.92,351.20 L135.79,352.42 L137.67,353.64 L139.54,354.84 L141.41,356.04 L143.29,357.23 L145.16,358.42 L147.04,359.59 L148.91,360.76 L149.89,361.37 L150.79,361.93 L152.66,363.08 L154.53,364.23 L156.41,365.38 L158.28,366.51 L160.16,367.64 L162.03,368.77 L163.90,369.89 L165.78,371.00 L167.65,372.11 L168.39,372.55 L169.53,373.22 L171.40,374.31 L173.27,375.41 L175.15,376.50 L177.02,377.58 L178.90,378.66 L180.77,379.73 L182.65,380.80 L184.52,381.86 L186.39,382.92 L188.27,383.98 L188.89,384.33 L190.14,385.03 L192.02,386.08 L193.89,387.12 L195.76,388.16 L197.64,389.19 L199.51,390.23 L201.39,391.25 L203.26,392.27 L205.13,393.29" stroke="#006400" stroke-dasharray="10.00 3.33 1.67 3.33 1.67 3.33 1.67 3.33"/>
<path d="M205.13,393.29 L207.01,394.31 L208.88,395.32 L210.76,396.33 L211.74,396.85 L212.63,397.33 L214.50,398.33 L216.38,399.33 L218.25,400.32 L220.13,401.31 L222.00,402.29 L223.88,403.28 L225.75,404.26 L227.62,405.23 L229.50,406.20 L231.37,407.17 L233.25,408.14 L235.12,409.10 L236.99,410.06 L237.35,410.24 L238.87,411.01 L240.74,411.97 L242.62,412.92 L244.49,413.86 L246.36,414.80 L248.24,415.74 L250.11,416.68 L251.99,417.61 L253.86,418.54 L255.74,419.47 L257.61,420.40 L259.48,421.32 L261.36,422.24 L263.23,423.15 L265.11,424.06 L266.27,424.63 L266.98,424.97 L268.85,425.88 L270.73,426.78 L272.60,427.68 L274.48,428.58 L276.35,429.48 L278.22,430.37 L280.10,431.26 L281.97,432.14 L283.85,433.03 L285.72,433.91 L287.60,434.78 L289.47,435.66 L291.34,436.53 L293.22,437.40 L295.09,438.27 L296.97,439.13 L298.84,439.99 L299.18,440.15 L300.71,440.85 L302.59,441.70 L304.46,442.56 L306.34,443.41 L308.21,444.25 L310.08,445.10 L311.96,445.94 L313.83,446.78 L315.71,447.62 L317.58,448.45 L319.46,449.28 L321.33,450.11 L323.20,450.94 L325.08,451.76 L326.95,452.58 L328.83,453.40 L330.70,454.22 L332.57,455.03 L334.45,455.84 L336.32,456.65 L336.97,456.93 L338.20,457.45 L340.07,458.26 L341.94,459.06 L343.82,459.86" stroke="#006400" stroke-dasharray="10.00 3.33 1.67 3.33 1.67 3.33 1.67 3.33"/>
<path d="M343.82,459.86 L345.69,460.65 L347.57,461.44 L349.44,462.23 L351.32,463.02 L353.19,463.81 L355.06,464.59 L356.94,465.37 L358.81,466.15 L360.69,466.92 L362.56,467.70 L364.43,468.47 L366.31,469.24 L368.18,470.00 L370.06,470.77 L371.93,471.53 L373.80,472.29 L375.68,473.04 L377.55,473.80 L379.43,474.55 L381.30,475.30 L383.18,476.04 L385.05,476.79 L386.92,477.53 L388.80,478.27 L390.67,479.01 L392.55,479.74 L394.42,480.48 L396.29,481.21 L398.17,481.93 L400.04,482.66 L401.92,483.38 L403.79,484.11 L405.66,484.82 L407.54,485.54 L409.41,486.26 L411.29,486.97 L413.16,487.68 L415.04,488.39 L416.91,489.09 L418.78,489.80 L420.66,490.50 L422.53,491.20 L424.41,491.89 L426.28,492.59 L428.15,493.28 L430.03,493.97 L431.90,494.66 L433.78,495.35 L435.65,496.03 L437.52,496.71 L439.40,497.39 L441.27,498.07 L443.15,498.74 L445.02,499.42 L446.89,500.09 L448.77,500.76 L450.64,501.43 L452.52,502.09 L454.39,502.75 L456.27,503.41 L458.14,504.07 L460.01,504.73 L461.89,505.39 L463.76,506.04 L465.64,506.69 L467.51,507.34 L469.38,507.98 L471.26,508.63 L473.13,509.27 L473.18,509.29 L475.01,509.91 L476.88,510.55 L478.75,511.19 L480.63,511.82 L482.50,512.46" stroke="#006400" stroke-dasharray="10.00 3.33 1.67 3.33 1.67 3.33 1.67 3.33"/>
<path d="M482.50,512.46 L484.38,513.09 L486.25,513.72 L488.13,514.34 L490.00,514.97 L491.87,515.59 L493.75,516.21 L495.62,516.83 L497.50,517.45 L499.37,518.07 L501.24,518.68 L503.12,519.29 L504.99,519.90 L506.87,520.51 L508.74,521.11 L510.61,521.72 L512.49,522.32 L514.36,522.92 L516.24,523.52 L518.11,524.12 L519.99,524.71 L521.86,525.31 L523.73,525.90 L525.61,526.49 L527.48,527.08 L529.36,527.66 L531.23,528.25 L533.10,528.83 L534.98,529.41 L536.85,529.99 L538.73,530.57 L540.60,531.14 L542.47,531.72 L544.35,532.29 L546.22,532.86 L548.10,533.43 L549.97,533.99 L551.85,534.56 L553.72,535.12 L555.59,535.68 L557.47,536.24 L559.34,536.80 L561.22,537.36 L563.09,537.92 L564.96,538.47 L566.84,539.02 L568.71,539.57 L570.59,540.12 L572.46,540.67 L574.33,541.21 L576.21,541.76 L578.08,542.30 L579.96,542.84 L581.83,543.38 L583.71,543.91 L585.58,544.45 L587.45,544.98 L589.33,545.52 L591.20,546.05 L593.08,546.58 L594.95,547.10 L596.82,547.63 L598.70,548.15 L600.57,548.68 L602.45,549.20 L602.60,549.24 L604.32,549.72 L606.19,550.24 L608.07,550.75 L609.94,551.27 L611.82,551.78 L613.69,552.30 L615.57,552.81 L617.44,553.32 L619.31,553.82 L621.19,554.33" stroke="#006400" stroke-dasharray="10.00 3.33 1.67 3.33 1.67 3.33 1.67 3.33"/>
<path d="M621.19,554.33 L623.06,554.84 L624.94,555.34 L626.81,555.84 L628.68,556.34 L630.56,556.84 L632.43,557.34 L634.31,557.83 L636.18,558.33 L638.05,558.82 L639.93,559.31 L641.80,559.80 L643.68,560.29 L645.55,560.78 L647.43,561.27 L649.30,561.75 L651.17,562.24 L653.05,562.72 L654.92,563.20 L656.80,563.68 L658.67,564.16 L660.54,564.63 L662.42,565.11 L664.29,565.58 L666.17,566.05 L668.04,566.52 L669.91,566.99 L671.79,567.46 L673.66,567.93 L675.54,568.40 L677.41,568.86 L679.29,569.32 L681.16,569.78 L683.03,570.24 L684.91,570.70 L686.78,571.16 L688.66,571.62 L690.53,572.07 L692.40,572.53 L694.28,572.98 L696.15,573.43 L698.03,573.88 L699.90,574.33 L701.77,574.78 L703.65,575.23 L705.52,575.67 L707.40,576.11 L709.27,576.56 L711.14,577.00 L713.02,577.44 L714.89,577.88 L716.77,578.32 L718.64,578.75 L720.52,579.19 L722.39,579.62 L724.26,580.05 L726.14,580.49 L728.01,580.92 L729.89,581.35 L731.76,581.77 L733.63,582.20 L735.51,582.63 L737.38,583.05 L739.26,583.47 L741.13,583.90 L743.00,584.32 L744.88,584.74 L746.75,585.16 L748.63,585.57 L750.50,585.99 L752.38,586.41 L754.25,586.82 L756.12,587.23 L758.00,587.65 L759.87,588.06" stroke="#006400" stroke-dasharray="10.00 3.33 1.67 3.33 1.67 3.33 1.67 3.33"/>
<path d="M759.87,588.06 L761.80,588.48 L763.72,588.90 L765.65,589.32 L767.58,589.73 L769.50,590.15 L771.43,590.57 L773.36,590.98 L775.28,591.39 L777.21,591.80 L779.13,592.22 L781.06,592.62 L782.99,593.03 L784.91,593.44 L786.84,593.85 L788.76,594.25 L790.69,594.66 L792.62,595.06 L794.54,595.46 L796.47,595.86 L798.40,596.26 L800.32,596.66 L802.25,597.06 L804.17,597.45 L806.10,597.85" stroke="#006400" stroke-dasharray="10.00 3.33 1.67 3.33 1.67 3.33 1.67 3.33"/>
</g>
<path d="M687.94,456.07 V597.5" stroke="#000" stroke-width="1.9" stroke-dasharray="1.6 3.06" fill="none"/>
<path d="M66.45,597.5 v-5.66 M66.45,31.8 v5.66 M84.94,597.5 v-5.66 M84.94,31.8 v5.66 M103.43,597.5 v-5.66 M103.43,31.8 v5.66 M121.92,597.5 v-5.66 M121.92,31.8 v5.66 M140.42,597.5 v-5.66 M140.42,31.8 v5.66 M158.91,597.5 v-11.31 M158.91,31.8 v11.31 M177.40,597.5 v-5.66 M177.40,31.8 v5.66 M195.89,597.5 v-5.66 M195.89,31.8 v5.66 M214.38,597.5 v-5.66 M214.38,31.8 v5.66 M232.87,597.5 v-5.66 M232.87,31.8 v5.66 M251.36,597.5 v-5.66 M251.36,31.8 v5.66 M269.85,597.5 v-5.66 M269.85,31.8 v5.66 M288.34,597.5 v-5.66 M288.34,31.8 v5.66 M306.84,597.5 v-5.66 M306.84,31.8 v5.66 M325.33,597.5 v-5.66 M325.33,31.8 v5.66 M343.82,597.5 v-11.31 M343.82,31.8 v11.31 M362.31,597.5 v-5.66 M362.31,31.8 v5.66 M380.80,597.5 v-5.66 M380.80,31.8 v5.66 M399.29,597.5 v-5.66 M399.29,31.8 v5.66 M417.78,597.5 v-5.66 M417.78,31.8 v5.66 M436.27,597.5 v-5.66 M436.27,31.8 v5.66 M454.77,597.5 v-5.66 M454.77,31.8 v5.66 M473.26,597.5 v-5.66 M473.26,31.8 v5.66 M491.75,597.5 v-5.66 M491.75,31.8 v5.66 M510.24,597.5 v-5.66 M510.24,31.8 v5.66 M528.73,597.5 v-11.31 M528.73,31.8 v11.31 M547.22,597.5 v-5.66 M547.22,31.8 v5.66 M565.71,597.5 v-5.66 M565.71,31.8 v5.66 M584.21,597.5 v-5.66 M584.21,31.8 v5.66 M602.70,597.5 v-5.66 M602.70,31.8 v5.66 M621.19,597.5 v-5.66 M621.19,31.8 v5.66 M639.68,597.5 v-5.66 M639.68,31.8 v5.66 M658.17,597.5 v-5.66 M658.17,31.8 v5.66 M676.66,597.5 v-5.66 M676.66,31.8 v5.66 M695.15,597.5 v-5.66 M695.15,31.8 v5.66 M713.64,597.5 v-11.31 M713.64,31.8 v11.31 M732.13,597.5 v-5.66 M732.13,31.8 v5.66 M750.63,597.5 v-5.66 M750.63,31.8 v5.66 M769.12,597.5 v-5.66 M769.12,31.8 v5.66 M787.61,597.5 v-5.66 M787.61,31.8 v5.66 M806.10,597.5 v-5.66 M806.10,31.8 v5.66 M66.45,597.50 h14.79 M806.1,597.50 h-14.79 M66.45,583.36 h7.40 M806.1,583.36 h-7.40 M66.45,569.22 h7.40 M806.1,569.22 h-7.40 M66.45,555.07 h7.40 M806.1,555.07 h-7.40 M66.45,540.93 h7.40 M806.1,540.93 h-7.40 M66.45,526.79 h7.40 M806.1,526.79 h-7.40 M66.45,512.64 h7.40 M806.1,512.64 h-7.40 M66.45,498.50 h7.40 M806.1,498.50 h-7.40 M66.45,484.36 h7.40 M806.1,484.36 h-7.40 M66.45,470.22 h7.40 M806.1,470.22 h-7.40 M66.45,456.07 h14.79 M806.1,456.07 h-14.79 M66.45,441.93 h7.40 M806.1,441.93 h-7.40 M66.45,427.79 h7.40 M806.1,427.79 h-7.40 M66.45,413.65 h7.40 M806.1,413.65 h-7.40 M66.45,399.50 h7.40 M806.1,399.50 h-7.40 M66.45,385.36 h7.40 M806.1,385.36 h-7.40 M66.45,371.22 h7.40 M806.1,371.22 h-7.40 M66.45,357.08 h7.40 M806.1,357.08 h-7.40 M66.45,342.94 h7.40 M806.1,342.94 h-7.40 M66.45,328.79 h7.40 M806.1,328.79 h-7.40 M66.45,314.65 h14.79 M806.1,314.65 h-14.79 M66.45,300.51 h7.40 M806.1,300.51 h-7.40 M66.45,286.36 h7.40 M806.1,286.36 h-7.40 M66.45,272.22 h7.40 M806.1,272.22 h-7.40 M66.45,258.08 h7.40 M806.1,258.08 h-7.40 M66.45,243.94 h7.40 M806.1,243.94 h-7.40 M66.45,229.79 h7.40 M806.1,229.79 h-7.40 M66.45,215.65 h7.40 M806.1,215.65 h-7.40 M66.45,201.51 h7.40 M806.1,201.51 h-7.40 M66.45,187.37 h7.40 M806.1,187.37 h-7.40 M66.45,173.22 h14.79 M806.1,173.22 h-14.79 M66.45,159.08 h7.40 M806.1,159.08 h-7.40 M66.45,144.94 h7.40 M806.1,144.94 h-7.40 M66.45,130.80 h7.40 M806.1,130.80 h-7.40 M66.45,116.65 h7.40 M806.1,116.65 h-7.40 M66.45,102.51 h7.40 M806.1,102.51 h-7.40 M66.45,88.37 h7.40 M806.1,88.37 h-7.40 M66.45,74.23 h7.40 M806.1,74.23 h-7.40 M66.45,60.08 h7.40 M806.1,60.08 h-7.40 M66.45,45.94 h7.40 M806.1,45.94 h-7.40 M66.45,31.80 h14.79 M806.1,31.80 h-14.79" stroke="#000" stroke-width="1.3" fill="none"/>
<rect x="66.45" y="31.8" width="739.65" height="565.7" fill="none" stroke="#000" stroke-width="1.3"/>
<rect x="415.5" y="231.4" width="332.4" height="166.29999999999998" fill="#fff"/>
<g clip-path="url(#ci)" fill="none" stroke-width="1.85">
<path d="M415.50,266.09 L424.02,268.41 L432.55,270.72 L441.07,273.01 L449.59,275.30 L458.12,277.58 L466.64,279.85 L475.16,282.11 L483.68,284.36 L492.21,286.60 L500.73,288.83 L509.25,291.05 L517.78,293.27 L526.30,295.47 L534.82,297.66 L543.35,299.85 L551.87,302.03 L560.39,304.19 L568.92,306.35 L577.44,308.50 L585.96,310.64 L594.48,312.77 L603.01,314.90 L611.53,317.01 L620.05,319.12 L628.58,321.22 L637.10,323.31 L645.62,325.39 L654.15,327.46 L662.67,329.52 L671.19,331.58 L679.72,333.63 L688.24,335.67 L696.76,337.70 L705.28,339.72 L713.81,341.74 L722.33,343.75 L730.85,345.75 L739.38,347.74 L747.90,349.72" stroke="#0000ff" stroke-dasharray="13.33 6.67"/>
<path d="M415.50,332.45 L424.02,334.15 L432.55,335.84 L441.07,337.53 L449.59,339.22 L458.12,340.90 L466.64,342.57 L475.16,344.24 L483.68,345.91 L492.21,347.57 L500.73,349.22 L509.25,350.88 L517.78,352.52 L526.30,354.16 L534.82,355.80 L543.35,357.43 L551.87,359.06 L560.39,360.68 L568.92,362.30 L577.44,363.91 L585.96,365.52 L594.48,367.12 L603.01,368.72 L611.53,370.32 L620.05,371.91 L628.58,373.49 L637.10,375.07 L645.62,376.65 L654.15,378.22 L662.67,379.79 L671.19,381.35 L679.72,382.91 L688.24,384.46 L696.76,386.01 L705.28,387.56 L713.81,389.10 L722.33,390.63 L730.85,392.17 L739.38,393.69 L747.90,395.22" stroke="#000"/>
<path d="M415.50,260.74 L424.02,263.06 L432.55,265.38 L441.07,267.70 L449.59,270.01 L458.12,272.33 L466.64,274.65 L475.16,276.97 L483.68,279.28 L492.21,281.60 L500.73,283.92 L509.25,286.24 L517.78,288.55 L526.30,290.87 L534.82,293.19 L543.35,295.50 L551.87,297.82 L560.39,300.14 L568.92,302.46 L577.44,304.77 L585.96,307.09 L594.48,309.41 L603.01,311.73 L611.53,314.04 L620.05,316.36 L628.58,318.68 L637.10,321.00 L645.62,323.31 L654.15,325.63 L662.67,327.95 L671.19,330.27 L679.72,332.58 L688.24,334.90 L696.76,337.22 L705.28,339.54 L713.81,341.85 L722.33,344.17 L730.85,346.49 L739.38,348.81 L747.90,351.12" stroke="#ffa500" stroke-dasharray="1.45 3.21"/>
<path d="M415.50,255.11 L424.02,257.32 L432.55,259.53 L441.07,261.74 L449.59,263.95 L458.12,266.16 L466.64,268.37 L475.16,270.58 L483.68,272.80 L492.21,275.01 L500.73,277.22 L509.25,279.43 L517.78,281.64 L526.30,283.85 L534.82,286.06 L543.35,288.27 L551.87,290.48 L560.39,292.70 L568.92,294.91 L577.44,297.12 L585.96,299.33 L594.48,301.54 L603.01,303.75 L611.53,305.96 L620.05,308.17 L628.58,310.38 L637.10,312.60 L645.62,314.81 L654.15,317.02 L662.67,319.23 L671.19,321.44 L679.72,323.65 L688.24,325.86 L696.76,328.07 L705.28,330.29 L713.81,332.50 L722.33,334.71 L730.85,336.92 L739.38,339.13 L747.90,341.34" stroke="#ff0000" stroke-dasharray="6.67 6.67"/>
<path d="M415.50,253.06 L424.02,255.80 L432.55,258.53 L441.07,261.26 L449.59,263.97 L458.12,266.68 L466.64,269.38 L475.16,272.08 L483.68,274.76 L492.21,277.44 L500.73,280.11 L509.25,282.77 L517.78,285.43 L526.30,288.07 L534.82,290.71 L543.35,293.34 L551.87,295.97 L560.39,298.58 L568.92,301.19 L577.44,303.79 L585.96,306.39 L594.48,308.97 L603.01,311.55 L611.53,314.12 L620.05,316.69 L628.58,319.24 L637.10,321.79 L645.62,324.34 L654.15,326.87 L662.67,329.40 L671.19,331.92 L679.72,334.43 L688.24,336.94 L696.76,339.44 L705.28,341.93 L713.81,344.41 L722.33,346.89 L730.85,349.36 L739.38,351.83 L747.90,354.28" stroke="#00ff00" stroke-dasharray="6.67 3.33 1.67 3.33"/>
<path d="M415.50,284.30 L424.02,286.64 L432.55,288.97 L441.07,291.29 L449.59,293.60 L458.12,295.91 L466.64,298.21 L475.16,300.51 L483.68,302.79 L492.21,305.08 L500.73,307.35 L509.25,309.62 L517.78,311.88 L526.30,314.14 L534.82,316.38 L543.35,318.63 L551.87,320.86 L560.39,323.09 L568.92,325.31 L577.44,327.53 L585.96,329.74 L594.48,331.94 L603.01,334.14 L611.53,336.33 L620.05,338.52 L628.58,340.69 L637.10,342.87 L645.62,345.03 L654.15,347.19 L662.67,349.35 L671.19,351.49 L679.72,353.63 L688.24,355.77 L696.76,357.90 L705.28,360.02 L713.81,362.14 L722.33,364.25 L730.85,366.36 L739.38,368.46 L747.90,370.55" stroke="#006400" stroke-dasharray="10.00 3.33 1.67 3.33 1.67 3.33 1.67 3.33"/>
</g>
<path d="M632.39,231.4 V397.7" stroke="#000" stroke-width="1.9" stroke-dasharray="1.6 3.06" fill="none"/>
<path d="M415.50,397.7 v-3.33 M415.50,231.4 v3.33 M423.81,397.7 v-1.66 M423.81,231.4 v1.66 M432.12,397.7 v-1.66 M432.12,231.4 v1.66 M440.43,397.7 v-1.66 M440.43,231.4 v1.66 M448.74,397.7 v-1.66 M448.74,231.4 v1.66 M457.05,397.7 v-1.66 M457.05,231.4 v1.66 M465.36,397.7 v-1.66 M465.36,231.4 v1.66 M473.67,397.7 v-1.66 M473.67,231.4 v1.66 M481.98,397.7 v-1.66 M481.98,231.4 v1.66 M490.29,397.7 v-1.66 M490.29,231.4 v1.66 M498.60,397.7 v-3.33 M498.60,231.4 v3.33 M506.91,397.7 v-1.66 M506.91,231.4 v1.66 M515.22,397.7 v-1.66 M515.22,231.4 v1.66 M523.53,397.7 v-1.66 M523.53,231.4 v1.66 M531.84,397.7 v-1.66 M531.84,231.4 v1.66 M540.15,397.7 v-1.66 M540.15,231.4 v1.66 M548.46,397.7 v-1.66 M548.46,231.4 v1.66 M556.77,397.7 v-1.66 M556.77,231.4 v1.66 M565.08,397.7 v-1.66 M565.08,231.4 v1.66 M573.39,397.7 v-1.66 M573.39,231.4 v1.66 M581.70,397.7 v-3.33 M581.70,231.4 v3.33 M590.01,397.7 v-1.66 M590.01,231.4 v1.66 M598.32,397.7 v-1.66 M598.32,231.4 v1.66 M606.63,397.7 v-1.66 M606.63,231.4 v1.66 M614.94,397.7 v-1.66 M614.94,231.4 v1.66 M623.25,397.7 v-1.66 M623.25,231.4 v1.66 M631.56,397.7 v-1.66 M631.56,231.4 v1.66 M639.87,397.7 v-1.66 M639.87,231.4 v1.66 M648.18,397.7 v-1.66 M648.18,231.4 v1.66 M656.49,397.7 v-1.66 M656.49,231.4 v1.66 M664.80,397.7 v-3.33 M664.80,231.4 v3.33 M673.11,397.7 v-1.66 M673.11,231.4 v1.66 M681.42,397.7 v-1.66 M681.42,231.4 v1.66 M689.73,397.7 v-1.66 M689.73,231.4 v1.66 M698.04,397.7 v-1.66 M698.04,231.4 v1.66 M706.35,397.7 v-1.66 M706.35,231.4 v1.66 M714.66,397.7 v-1.66 M714.66,231.4 v1.66 M722.97,397.7 v-1.66 M722.97,231.4 v1.66 M731.28,397.7 v-1.66 M731.28,231.4 v1.66 M739.59,397.7 v-1.66 M739.59,231.4 v1.66 M747.90,397.7 v-3.33 M747.90,231.4 v3.33 M415.5,397.70 h6.65 M747.9,397.70 h-6.65 M415.5,391.05 h3.32 M747.9,391.05 h-3.32 M415.5,384.40 h3.32 M747.9,384.40 h-3.32 M415.5,377.74 h3.32 M747.9,377.74 h-3.32 M415.5,371.09 h3.32 M747.9,371.09 h-3.32 M415.5,364.44 h6.65 M747.9,364.44 h-6.65 M415.5,357.79 h3.32 M747.9,357.79 h-3.32 M415.5,351.14 h3.32 M747.9,351.14 h-3.32 M415.5,344.48 h3.32 M747.9,344.48 h-3.32 M415.5,337.83 h3.32 M747.9,337.83 h-3.32 M415.5,331.18 h6.65 M747.9,331.18 h-6.65 M415.5,324.53 h3.32 M747.9,324.53 h-3.32 M415.5,317.88 h3.32 M747.9,317.88 h-3.32 M415.5,311.22 h3.32 M747.9,311.22 h-3.32 M415.5,304.57 h3.32 M747.9,304.57 h-3.32 M415.5,297.92 h6.65 M747.9,297.92 h-6.65 M415.5,291.27 h3.32 M747.9,291.27 h-3.32 M415.5,284.62 h3.32 M747.9,284.62 h-3.32 M415.5,277.96 h3.32 M747.9,277.96 h-3.32 M415.5,271.31 h3.32 M747.9,271.31 h-3.32 M415.5,264.66 h6.65 M747.9,264.66 h-6.65 M415.5,258.01 h3.32 M747.9,258.01 h-3.32 M415.5,251.36 h3.32 M747.9,251.36 h-3.32 M415.5,244.70 h3.32 M747.9,244.70 h-3.32 M415.5,238.05 h3.32 M747.9,238.05 h-3.32 M415.5,231.40 h6.65 M747.9,231.40 h-6.65" stroke="#000" stroke-width="1.3" fill="none"/>
<rect x="415.5" y="231.4" width="332.4" height="166.29999999999998" fill="none" stroke="#000" stroke-width="1.3"/>
<g style="isolation:isolate;opacity:0.999">
<text class="t" transform="translate(136.11,624.20) scale(1.1472,1)">2000</text>
<text class="t" transform="translate(321.02,624.20) scale(1.1472,1)">3000</text>
<text class="t" transform="translate(505.93,624.20) scale(1.1472,1)">4000</text>
<text class="t" transform="translate(690.84,624.20) scale(1.1472,1)">5000</text>
<text class="t" transform="translate(49.90,44.60) scale(0.9442,1)">5</text>
<text class="t" transform="translate(49.90,180.82) scale(0.9442,1)">4</text>
<text class="t" transform="translate(49.90,322.05) scale(0.9442,1)">3</text>
<text class="t" transform="translate(49.90,462.97) scale(0.9442,1)">2</text>
<text class="t" transform="translate(49.90,597.90) scale(0.9442,1)">1</text>
<text class="t" transform="translate(392.10,425.10) scale(1.1472,1)">4600</text>
<text class="t" transform="translate(475.20,425.10) scale(1.1472,1)">4700</text>
<text class="t" transform="translate(558.30,425.10) scale(1.1472,1)">4800</text>
<text class="t" transform="translate(641.40,425.10) scale(1.1472,1)">4900</text>
<text class="t" transform="translate(724.50,425.10) scale(1.1472,1)">5000</text>
<text class="t" transform="translate(371.60,397.80) scale(1.0674,1)">1.10</text>
<text class="t" transform="translate(371.60,372.14) scale(1.0674,1)">1.15</text>
<text class="t" transform="translate(371.60,338.88) scale(1.0674,1)">1.20</text>
<text class="t" transform="translate(371.60,305.62) scale(1.0674,1)">1.25</text>
<text class="t" transform="translate(371.60,272.36) scale(1.0674,1)">1.30</text>
<text class="t" transform="translate(371.60,244.10) scale(1.0674,1)">1.35</text>
<text class="t" transform="translate(404.63,647.00) scale(0.9838,1)">λ</text>
<text class="p" stroke="#000" stroke-width="0.17" vector-effect="non-scaling-stroke" transform="translate(426.33,647.00) scale(0.7161,1)">(</text>
<text class="t" stroke="#000" stroke-width="0.16" vector-effect="non-scaling-stroke" transform="translate(442.93,647.00) scale(0.7377,1)">Å</text>
<text class="p" stroke="#000" stroke-width="0.14" vector-effect="non-scaling-stroke" transform="translate(460.73,647.00) scale(0.7590,1)">)</text>
<text class="t" transform="translate(550.05,446.60) scale(0.9838,1)">λ</text>
<text class="p" stroke="#000" stroke-width="0.17" vector-effect="non-scaling-stroke" transform="translate(571.75,446.60) scale(0.7161,1)">(</text>
<text class="t" stroke="#000" stroke-width="0.16" vector-effect="non-scaling-stroke" transform="translate(588.35,446.60) scale(0.7377,1)">Å</text>
<text class="p" stroke="#000" stroke-width="0.14" vector-effect="non-scaling-stroke" transform="translate(606.15,446.60) scale(0.7590,1)">)</text>
<g transform="translate(32.8,314.6) rotate(-90)"><text class="yl" stroke="#000" stroke-width="0.22" vector-effect="non-scaling-stroke" transform="translate(-25.30,0.00) scale(0.6055,1)">A</text><text class="ys" transform="translate(-15.80,4.80) scale(1.3746,1)">λ</text><path d="M-5.8,4.2 L4.7,-14.7" stroke="#222" stroke-width="1.0" fill="none"/><text class="yl" stroke="#000" stroke-width="0.19" vector-effect="non-scaling-stroke" transform="translate(6.80,0.00) scale(0.6848,1)">A</text><text class="ys" stroke="#000" stroke-width="0.15" vector-effect="non-scaling-stroke" transform="translate(17.90,4.80) scale(0.7470,1)">V</text></g>
<g transform="translate(352.8,314.6) rotate(-90)"><text class="yl" stroke="#000" stroke-width="0.22" vector-effect="non-scaling-stroke" transform="translate(-25.30,0.00) scale(0.6055,1)">A</text><text class="ys" transform="translate(-15.80,4.80) scale(1.3746,1)">λ</text><path d="M-5.8,4.2 L4.7,-14.7" stroke="#222" stroke-width="1.0" fill="none"/><text class="yl" stroke="#000" stroke-width="0.19" vector-effect="non-scaling-stroke" transform="translate(6.80,0.00) scale(0.6848,1)">A</text><text class="ys" stroke="#000" stroke-width="0.15" vector-effect="non-scaling-stroke" transform="translate(17.90,4.80) scale(0.7470,1)">V</text></g>
<path d="M214.4,88.6 H297.5" stroke="#0000ff" stroke-width="1.85" stroke-dasharray="13.33 6.67" fill="none"/>
<path d="M214.4,109.7 H297.5" stroke="#000" stroke-width="1.85" fill="none"/>
<path d="M214.4,130.8 H297.5" stroke="#ffa500" stroke-width="1.85" stroke-dasharray="1.45 3.21" fill="none"/>
<path d="M214.4,151.95 H297.5" stroke="#ff0000" stroke-width="1.85" stroke-dasharray="6.67 6.67" fill="none"/>
<path d="M214.4,173.05 H297.5" stroke="#00ff00" stroke-width="1.85" stroke-dasharray="6.67 3.33 1.67 3.33" fill="none"/>
<path d="M214.4,194.2 H297.5" stroke="#006400" stroke-width="1.85" stroke-dasharray="10.00 3.33 1.67 3.33 1.67 3.33 1.67 3.33" fill="none"/>
<text class="b" stroke-width="0.90" vector-effect="non-scaling-stroke" transform="translate(312.50,94.90) scale(1.0600,1)">High</text>
<path d="M358.2,90.2 H371.40000000000003" stroke="#000" stroke-width="1.7" stroke-linecap="round" fill="none"/>
<text class="b" stroke-width="0.95" vector-effect="non-scaling-stroke" transform="translate(373.00,94.90) scale(0.8539,1)">z</text>
<text class="b" stroke-width="0.64" vector-effect="non-scaling-stroke" transform="translate(391.60,94.90) scale(1.2144,1)">analogs</text>
<text class="b" stroke-width="0.79" vector-effect="non-scaling-stroke" transform="translate(476.70,94.90) scale(1.1211,1)">Salim</text>
<text class="b" stroke-width="0.68" vector-effect="non-scaling-stroke" transform="translate(540.40,94.90) scale(1.1877,1)">et.</text>
<text class="b" stroke-width="0.80" vector-effect="non-scaling-stroke" transform="translate(576.00,94.90) scale(1.1157,1)">al.</text>
<text class="b" stroke-width="0.79" vector-effect="non-scaling-stroke" transform="translate(609.30,94.90) scale(1.1250,1)">2018</text>
<text class="b" stroke-width="0.70" vector-effect="non-scaling-stroke" transform="translate(312.50,116.00) scale(1.1736,1)">Calzetti</text>
<text class="b" stroke-width="0.65" vector-effect="non-scaling-stroke" transform="translate(396.40,116.00) scale(1.2031,1)">et.</text>
<text class="b" stroke-width="0.76" vector-effect="non-scaling-stroke" transform="translate(432.00,116.00) scale(1.1414,1)">al.</text>
<text class="b" stroke-width="0.82" vector-effect="non-scaling-stroke" transform="translate(466.30,116.00) scale(1.1050,1)">2000</text>
<text class="b" stroke-width="0.95" vector-effect="non-scaling-stroke" transform="translate(312.50,137.10) scale(0.9018,1)">SMC</text>
<text class="b" stroke-width="0.77" vector-effect="non-scaling-stroke" transform="translate(361.40,137.10) scale(1.1350,1)">bar</text>
<text class="b" stroke-width="0.76" vector-effect="non-scaling-stroke" transform="translate(403.60,137.10) scale(1.1440,1)">Gordon</text>
<text class="b" stroke-width="0.71" vector-effect="non-scaling-stroke" transform="translate(484.50,137.10) scale(1.1722,1)">et.</text>
<text class="b" stroke-width="0.74" vector-effect="non-scaling-stroke" transform="translate(519.40,137.10) scale(1.1517,1)">al.</text>
<text class="b" stroke-width="0.78" vector-effect="non-scaling-stroke" transform="translate(551.90,137.10) scale(1.1275,1)">2003</text>
<text class="b" stroke-width="0.95" vector-effect="non-scaling-stroke" transform="translate(312.50,158.20) scale(0.8235,1)">LMC</text>
<text class="b" stroke-width="0.62" vector-effect="non-scaling-stroke" transform="translate(359.00,158.20) scale(1.2330,1)">supershell</text>
<text class="b" stroke-width="0.80" vector-effect="non-scaling-stroke" transform="translate(470.60,158.20) scale(1.1195,1)">Gordon</text>
<text class="b" stroke-width="0.70" vector-effect="non-scaling-stroke" transform="translate(551.10,158.20) scale(1.1774,1)">et.</text>
<text class="b" stroke-width="0.70" vector-effect="non-scaling-stroke" transform="translate(586.00,158.20) scale(1.1774,1)">al.</text>
<text class="b" stroke-width="0.78" vector-effect="non-scaling-stroke" transform="translate(619.80,158.20) scale(1.1300,1)">2003</text>
<text class="b" stroke-width="0.90" vector-effect="non-scaling-stroke" transform="translate(312.50,179.40) scale(1.0600,1)">High</text>
<path d="M358.2,174.7 H371.40000000000003" stroke="#000" stroke-width="1.7" stroke-linecap="round" fill="none"/>
<text class="b" stroke-width="0.95" vector-effect="non-scaling-stroke" transform="translate(373.00,179.40) scale(0.8539,1)">z</text>
<text class="b" stroke-width="0.86" vector-effect="non-scaling-stroke" transform="translate(392.80,179.40) scale(1.0843,1)">Reddy</text>
<text class="b" stroke-width="0.70" vector-effect="non-scaling-stroke" transform="translate(460.20,179.40) scale(1.1774,1)">et.</text>
<text class="b" stroke-width="0.75" vector-effect="non-scaling-stroke" transform="translate(495.00,179.40) scale(1.1465,1)">al.</text>
<text class="b" stroke-width="0.79" vector-effect="non-scaling-stroke" transform="translate(528.20,179.40) scale(1.1244,1)">2015,</text>
<text class="b" stroke-width="0.85" vector-effect="non-scaling-stroke" transform="translate(589.60,179.40) scale(1.0905,1)">Rv=2.51</text>
<text class="b" stroke-width="0.90" vector-effect="non-scaling-stroke" transform="translate(312.50,200.50) scale(1.0600,1)">High</text>
<path d="M358.2,195.8 H371.40000000000003" stroke="#000" stroke-width="1.7" stroke-linecap="round" fill="none"/>
<text class="b" stroke-width="0.95" vector-effect="non-scaling-stroke" transform="translate(373.00,200.50) scale(0.8539,1)">z</text>
<text class="b" stroke-width="0.86" vector-effect="non-scaling-stroke" transform="translate(392.80,200.50) scale(1.0843,1)">Reddy</text>
<text class="b" stroke-width="0.70" vector-effect="non-scaling-stroke" transform="translate(460.20,200.50) scale(1.1774,1)">et.</text>
<text class="b" stroke-width="0.75" vector-effect="non-scaling-stroke" transform="translate(495.00,200.50) scale(1.1465,1)">al.</text>
<text class="b" stroke-width="0.79" vector-effect="non-scaling-stroke" transform="translate(528.20,200.50) scale(1.1244,1)">2015,</text>
<text class="b" stroke-width="0.80" vector-effect="non-scaling-stroke" transform="translate(589.60,200.50) scale(1.1193,1)">Rv=2.94</text>
</g>
</svg>
</body></html>
